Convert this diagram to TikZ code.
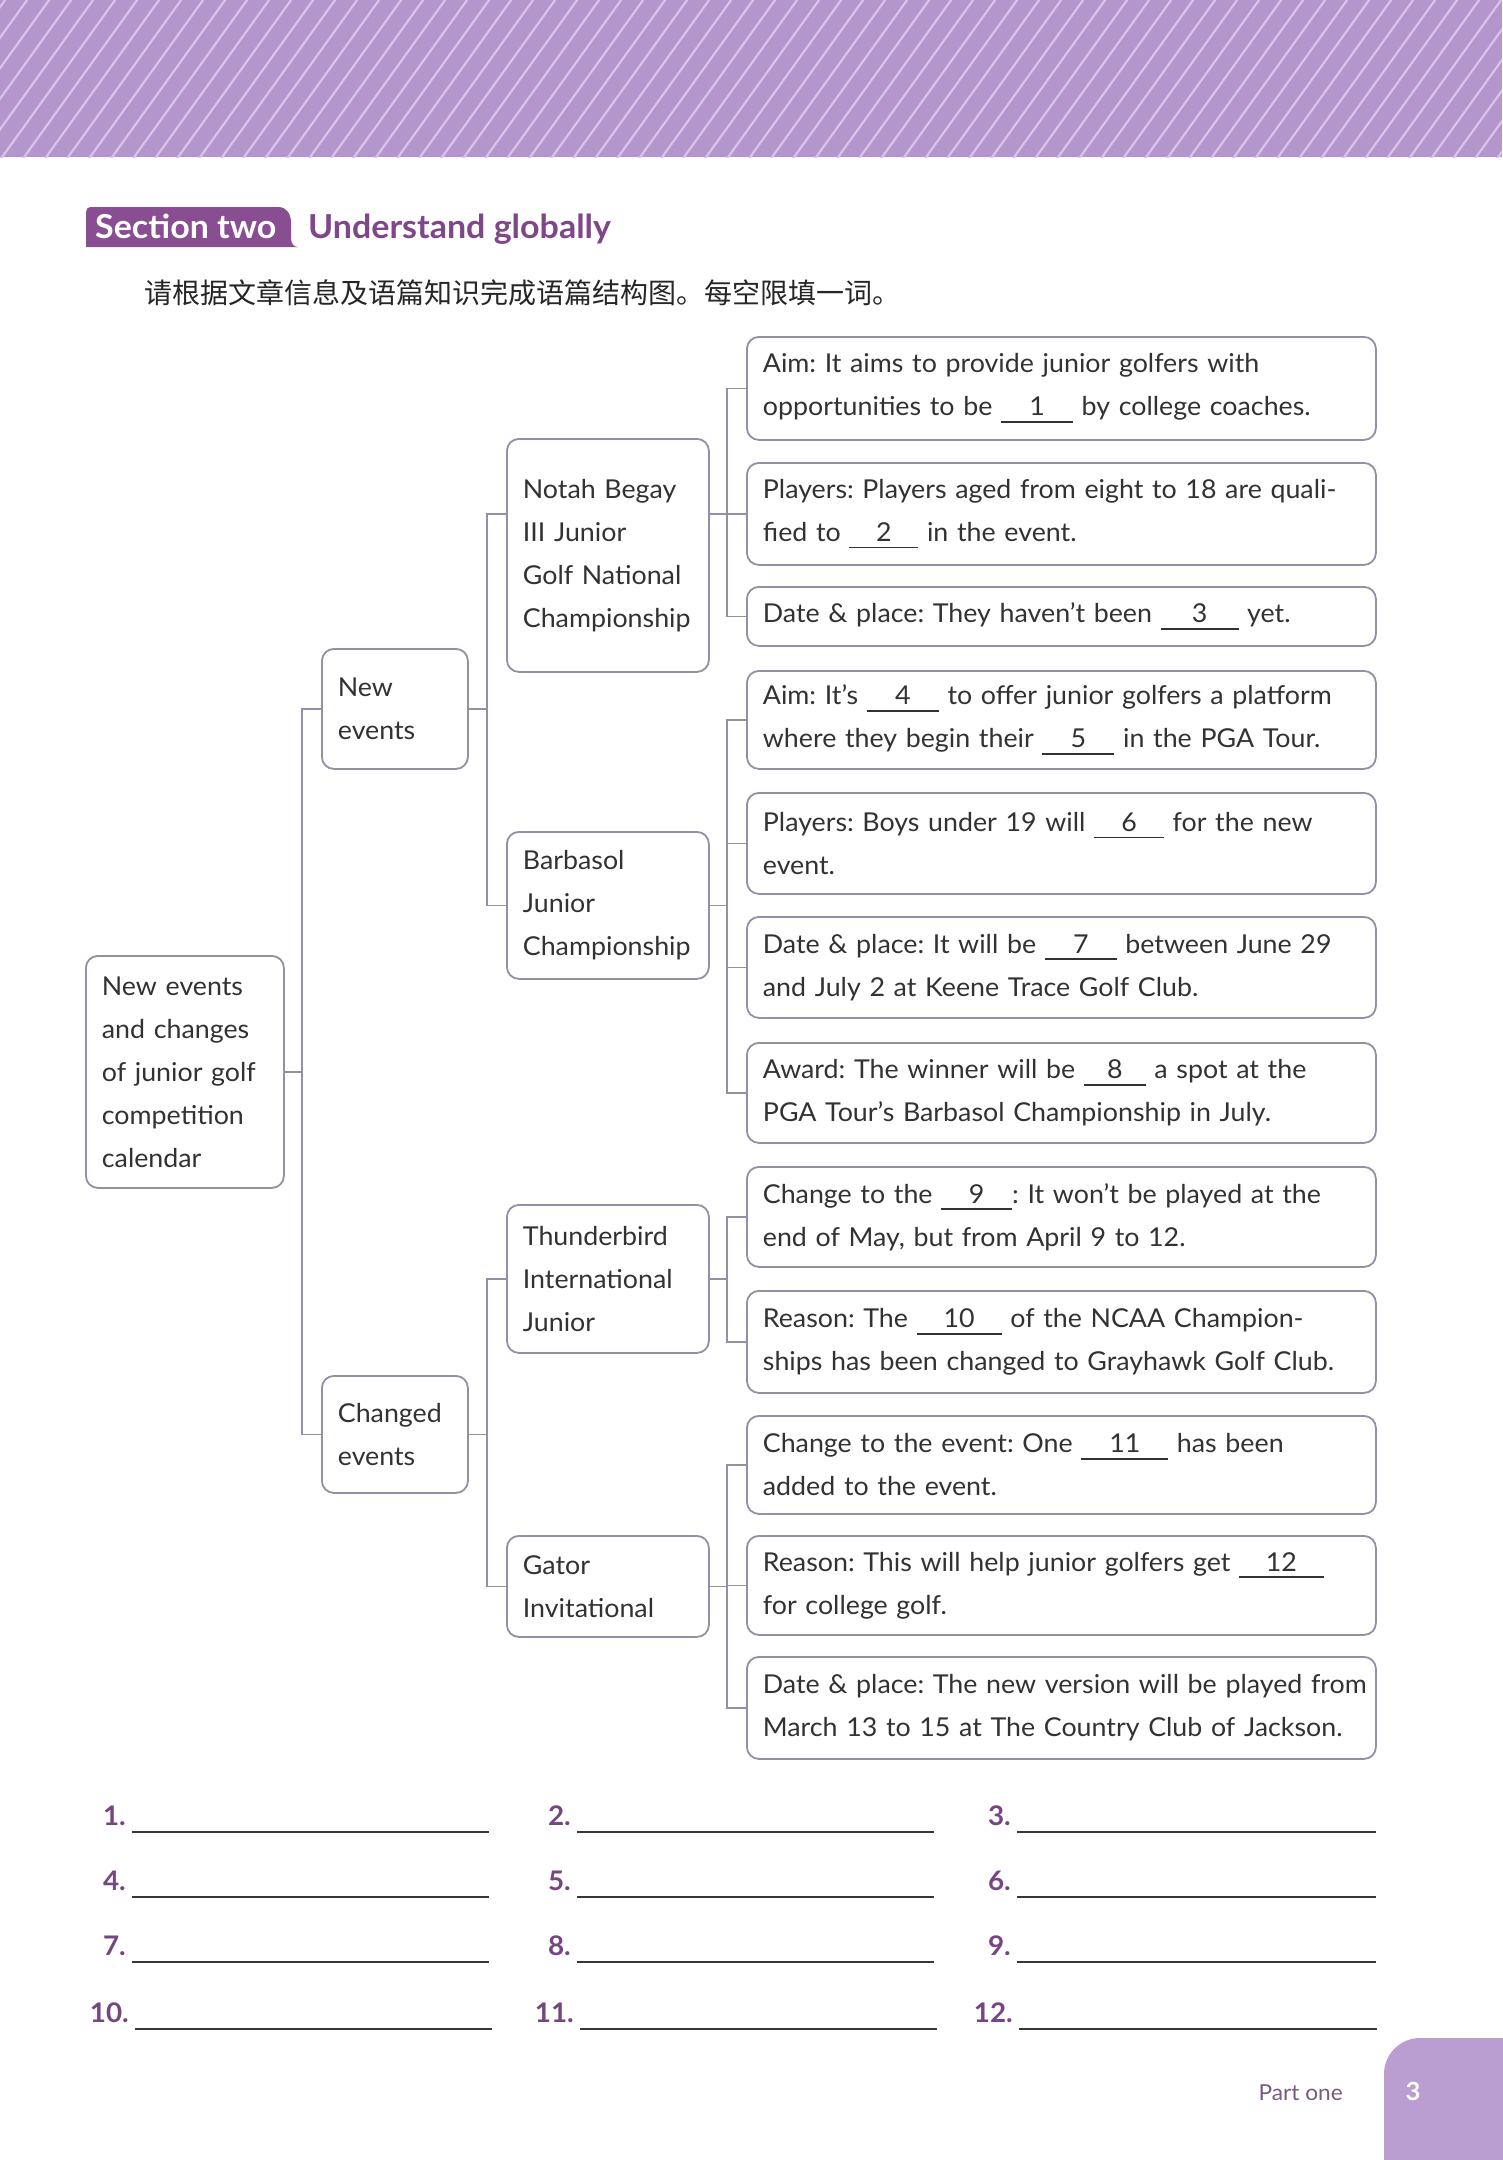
\documentclass[tikz,border=0pt]{standalone}
\usepackage{fontspec}
\setmainfont{Lato}[FakeStretch=1.03]
\newfontfamily\cjk{Noto Sans CJK SC}
\frenchspacing
\definecolor{hdr}{RGB}{180,150,204}
\definecolor{hdrline}{RGB}{216,196,234}
\definecolor{tabc}{RGB}{137,78,146}
\definecolor{titlec}{RGB}{128,70,138}
\definecolor{bord}{RGB}{150,142,162}
\definecolor{txt}{RGB}{50,50,50}
\definecolor{cornerc}{RGB}{186,158,210}
\definecolor{numc}{RGB}{118,70,130}
\definecolor{partc}{RGB}{120,90,130}
\definecolor{linec}{RGB}{55,55,55}
\newcommand\ansgap[2][72pt]{\rlap{\rule[-7pt]{#1}{1.8pt}}\makebox[#1]{#2}}
\newcommand\lne[1]{\mbox{#1}}
\tikzset{
  bx/.style={draw=bord, line width=1.8pt, rounded corners=12pt, inner xsep=16pt,
    inner ysep=0pt, anchor=north west, align=left, text=txt,
    font=\fontsize{26}{43}\selectfont},
  leaf/.style={bx, text width=597pt},
  conn/.style={draw=bord, line width=1.5pt},
  ansnum/.style={anchor=base east, inner sep=0pt, text=numc, font=\fontsize{27}{30}\selectfont\bfseries},
  ansline/.style={draw=linec, line width=2.2pt},
}
\begin{document}
\begin{tikzpicture}[x=1pt,y=-1pt]
\useasboundingbox (0,0) rectangle (1502,2160);
\fill[white] (0,0) rectangle (1502,2160);
% header band
\fill[hdr] (0,0) rectangle (1502,157);
\begin{scope}
  \clip (0,0) rectangle (1502,157);
  \foreach \i in {-7,...,70} {
    \draw[hdrline, line width=2.2pt] (\i*22,160) -- ++(118,-164);
  }
\end{scope}
% section tab
\fill[tabc] (86,247) -- (86,212) .. controls (86,209) and (88,207) .. (92,207)
  -- (278,207) .. controls (287,207) and (291,214) .. (291,223)
  -- (291,238) .. controls (291,244) and (294,247) .. (298,247) -- cycle;
\node[anchor=base west, inner sep=0pt, text=white, font=\fontsize{33}{36}\selectfont\bfseries] (sec) at (95,238) {Section two};
\node[anchor=base west, inner sep=0pt, text=titlec, font=\fontsize{33}{36}\selectfont\bfseries] (ttl) at (308,238) {Understand globally};
\node[anchor=west, inner sep=0pt, text=black!85, font=\cjk\fontsize{28}{30}\selectfont] (instr) at (144,293) {请根据文章信息及语篇知识完成语篇结构图。每空限填一词。};

% level 0/1/2 boxes
\node[bx, text width=166pt, minimum height=232pt] (root) at (85,955) {New events\\and changes\\of junior golf\\competition\\calendar};
\node[bx, text width=114pt, minimum height=120pt] (new) at (321,648) {New\\events};
\node[bx, text width=114pt, minimum height=117pt] (chg) at (321,1375) {Changed\\events};
\node[bx, text width=170pt, minimum height=233pt] (notah) at (506,438) {Notah Begay\\III Junior\\Golf National\\Championship};
\node[bx, text width=170pt, minimum height=147pt] (barb) at (506,831) {Barbasol\\Junior\\Championship};
\node[bx, text width=170pt, minimum height=148pt] (thun) at (506,1204) {Thunderbird\\International\\Junior};
\node[bx, text width=170pt, minimum height=101pt] (gator) at (506,1535) {Gator\\Invitational};

% leaves
\node[leaf, minimum height=103pt] (a1) at (746,336) {\lne{Aim: It aims to provide junior golfers with}\\\lne{opportunities to be \ansgap{1} by college coaches.}};
\node[leaf, minimum height=102pt] (a2) at (746,462) {\lne{Players: Players aged from eight to 18 are quali-}\\\lne{fied to \ansgap[69pt]{2} in the event.}};
\node[leaf, minimum height=59pt] (a3) at (746,586) {\lne{Date \& place: They haven’t been \ansgap[78pt]{3} yet.}};
\node[leaf, minimum height=98pt] (b1) at (746,670) {\lne{Aim: It’s \ansgap{4} to offer junior golfers a platform}\\\lne{where they begin their \ansgap{5} in the PGA Tour.}};
\node[leaf, minimum height=101pt] (b2) at (746,792) {\lne{Players: Boys under 19 will \ansgap[70pt]{6} for the new}\\\lne{event.}};
\node[leaf, minimum height=101pt] (b3) at (746,916) {\lne{Date \& place: It will be \ansgap{7} between June 29}\\\lne{and July 2 at Keene Trace Golf Club.}};
\node[leaf, minimum height=100pt] (b4) at (746,1042) {\lne{Award: The winner will be \ansgap[62pt]{8} a spot at the}\\\lne{PGA Tour’s Barbasol Championship in July.}};
\node[leaf, minimum height=100pt] (c1) at (746,1166) {\lne{Change to the \ansgap[71pt]{9}: It won’t be played at the}\\\lne{end of May, but from April 9 to 12.}};
\node[leaf, minimum height=102pt] (c2) at (746,1290) {\lne{Reason: The \ansgap[85pt]{10} of the NCAA Champion-}\\\lne{ships has been changed to Grayhawk Golf Club.}};
\node[leaf, minimum height=98pt] (d1) at (746,1415) {\lne{Change to the event: One \ansgap[87pt]{11} has been}\\\lne{added to the event.}};
\node[leaf, minimum height=99pt] (d2) at (746,1535) {\lne{Reason: This will help junior golfers get \ansgap[85pt]{12}}\\\lne{for college golf.}};
\node[leaf, minimum height=102pt] (d3) at (746,1656) {\lne{Date \& place: The new version will be played from}\\\lne{March 13 to 15 at The Country Club of Jackson.}};

% bus coordinates
\coordinate (busR) at ([xshift=-19pt]new.west);
\coordinate (busA) at ([xshift=-19pt]notah.west);
\coordinate (busN) at ([xshift=-19pt]a1.west);

% root
\draw[conn] (new.west) -- (new.west -| busR) |- (chg.west);
\draw[conn] (root.east) -- (root.east -| busR);
% new events
\draw[conn] (notah.west |- a2.west) -- (busA |- a2.west) |- (barb.west);
\draw[conn] (new.east) -- (new.east -| busA);
% changed events
\draw[conn] (thun.west) -- (thun.west -| busA) |- (gator.west);
\draw[conn] (chg.east) -- (chg.east -| busA);
% notah
\draw[conn] (a1.west) -- (a1.west -| busN) |- (a3.west);
\draw[conn] (notah.east |- a2.west) -- (a2.west);
% barbasol
\draw[conn] (b1.west) -- (b1.west -| busN) |- (b4.west);
\draw[conn] (b2.west) -- (b2.west -| busN);
\draw[conn] (b3.west) -- (b3.west -| busN);
\draw[conn] (barb.east) -- (barb.east -| busN);
% thunderbird
\draw[conn] (c1.west) -- (c1.west -| busN) |- (c2.west);
\draw[conn] (thun.east) -- (thun.east -| busN);
% gator
\draw[conn] (d1.west) -- (d1.west -| busN) |- (d3.west);
\draw[conn] (d2.west) -- (d2.west -| busN);
\draw[conn] (gator.east) -- (gator.east -| busN);

% answer lines
\foreach \n/\lx/\rx/\yy in {1/132/489/1832, 2/577/934/1832, 3/1017/1376/1832,
  4/132/489/1897, 5/577/934/1897, 6/1017/1376/1897,
  7/132/489/1962, 8/577/934/1962, 9/1017/1376/1962,
  10/135/492/2029, 11/580/937/2029, 12/1019/1377/2029} {
  \node[ansnum] (n\n) at (\lx-6,\yy-7) {\n.};
  \draw[ansline] (\lx,\yy) -- (\rx,\yy);
}

% page corner
\fill[cornerc, rounded corners=36pt] (1384,2200) -- (1384,2038) -- (1540,2038) -- (1540,2200) -- cycle;
\node[anchor=base, inner sep=0pt, text=white, font=\fontsize{25}{30}\selectfont\bfseries] (pg) at (1413,2100) {3};
\node[anchor=base east, inner sep=0pt, text=partc, font=\fontsize{22}{26}\selectfont] (part) at (1343,2100) {Part one};
\end{tikzpicture}
\end{document}
